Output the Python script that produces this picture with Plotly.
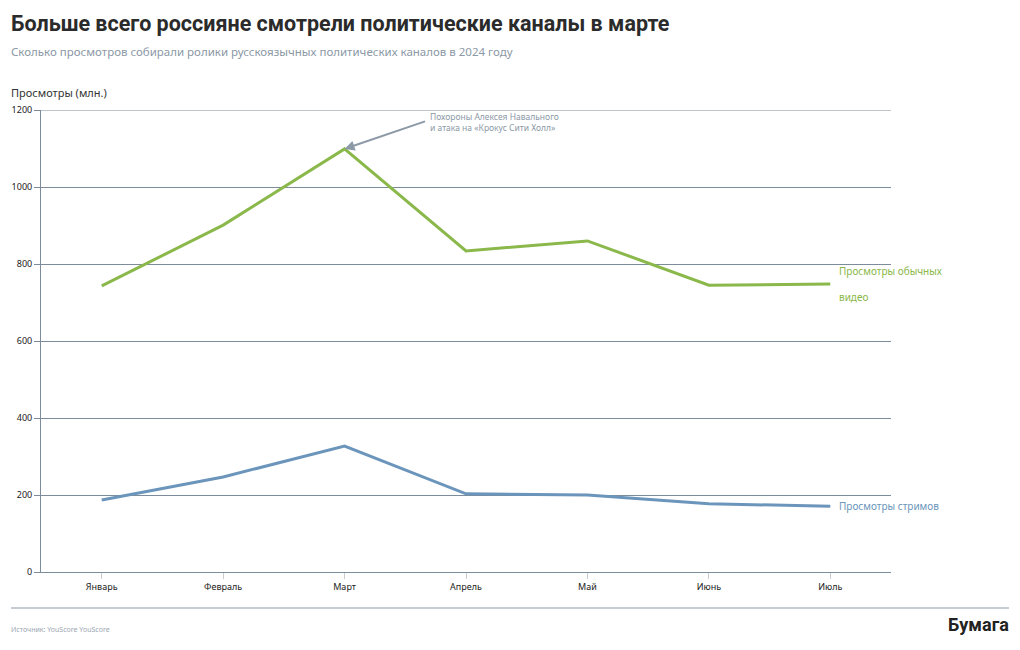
import plotly.graph_objects as go

months = ["Январь", "Февраль", "Март", "Апрель", "Май", "Июнь", "Июль"]
regular_views = [743, 901, 1099, 834, 860, 745, 748]
stream_views = [187, 247, 327, 203, 200, 177, 171]
y_ticks = [0, 200, 400, 600, 800, 1000, 1200]

GREEN = "#8ab84a"
BLUE = "#6b95bb"
GRID = "#7d8c9b"
FONT = "Noto Sans"

fig = go.Figure()
fig.add_trace(go.Scatter(x=months, y=regular_views, mode="lines",
                         line=dict(color=GREEN, width=3), hoverinfo="y"))
fig.add_trace(go.Scatter(x=months, y=stream_views, mode="lines",
                         line=dict(color=BLUE, width=3), hoverinfo="y"))

fig.update_layout(
    width=1020, height=650,
    margin=dict(l=41, r=129, t=110, b=78),
    plot_bgcolor="white", paper_bgcolor="white",
    showlegend=False,
    font=dict(family=FONT, color="#222"),
    xaxis=dict(range=[-0.5, 6.5], showgrid=False, showline=True, linecolor=GRID,
               linewidth=1, ticks="outside", ticklen=6, tickcolor="#c8cdd2",
               tickfont=dict(size=9, color="#222"), zeroline=False),
    yaxis=dict(range=[0, 1200], tickvals=y_ticks, showgrid=True, gridcolor=GRID,
               gridwidth=1, showline=True, linecolor=GRID, ticks="outside",
               ticklen=6, tickcolor=GRID, tickfont=dict(size=9, color="#222"),
               zeroline=False),
)

# top gridline at 1200
fig.add_shape(type="line", xref="paper", yref="y", x0=0, x1=1, y0=1200, y1=1200,
              line=dict(color=GRID, width=1))

# title, subtitle, axis title
fig.add_annotation(text="<b>Больше всего россияне смотрели политические каналы в марте</b>",
                   xref="paper", yref="paper", x=-32/850, y=1 + (110 - 24) / 462,
                   xanchor="left", yanchor="middle", showarrow=False,
                   font=dict(size=21.5, color="#2b2b2b", family="Roboto"))
fig.add_annotation(text="Сколько просмотров собирали ролики русскоязычных политических каналов в 2024 году",
                   xref="paper", yref="paper", x=-32/850, y=1 + (110 - 52) / 462,
                   xanchor="left", yanchor="middle", showarrow=False,
                   font=dict(size=11.5, color="#8b98a5", family=FONT))
fig.add_annotation(text="Просмотры (млн.)",
                   xref="paper", yref="paper", x=-32/850, y=1 + (110 - 93) / 462,
                   xanchor="left", yanchor="middle", showarrow=False,
                   font=dict(size=11, color="#333", family=FONT))

# event annotation
fig.add_annotation(x="Март", y=regular_views[2], ax=427 - 345, ay=121 - 149,
                   axref="pixel", ayref="pixel", text="", showarrow=True,
                   arrowhead=2, arrowsize=1, arrowwidth=2, arrowcolor="#8c99a6",
                   standoff=0)
fig.add_annotation(text="Похороны Алексея Навального<br>и атака на «Крокус Сити Холл»",
                   xref="paper", yref="paper", x=(428 - 41) / 850, y=1 - (122 - 110) / 462,
                   xanchor="left", yanchor="middle", align="left", showarrow=False,
                   font=dict(size=8.5, color="#8c99a6", family=FONT))

# series labels
fig.add_annotation(text="Просмотры обычных<br><br>видео", x=1, xref="paper", xshift=-54,
                   y=regular_views[-1], xanchor="left", yanchor="middle", align="left",
                   showarrow=False, font=dict(size=10, color=GREEN, family=FONT))
fig.add_annotation(text="Просмотры стримов", x=1, xref="paper", xshift=-54,
                   y=stream_views[-1], xanchor="left", yanchor="middle", align="left",
                   showarrow=False, font=dict(size=10, color=BLUE, family=FONT))

# footer
fig.add_shape(type="line", xref="paper", yref="paper",
              x0=(11 - 41) / 850, x1=(1009 - 41) / 850,
              y0=-(608 - 572) / 462, y1=-(608 - 572) / 462,
              line=dict(color="#8c99a6", width=1))
fig.add_annotation(text="Источник: YouScore YouScore", xref="paper", yref="paper",
                   x=(9 - 41) / 850, y=-(629 - 572) / 462, xanchor="left", yanchor="middle",
                   showarrow=False, font=dict(size=7, color="#9aa5b0", family=FONT))
fig.add_annotation(text="<b>Бумага</b>", xref="paper", yref="paper",
                   x=(1011 - 41) / 850, y=-(624 - 572) / 462, xanchor="right", yanchor="middle",
                   showarrow=False, font=dict(size=18, color="#222", family="Roboto"))

fig.write_html("out.html", config={"displayModeBar": False},
               post_script="document.body.style.margin='0';")
